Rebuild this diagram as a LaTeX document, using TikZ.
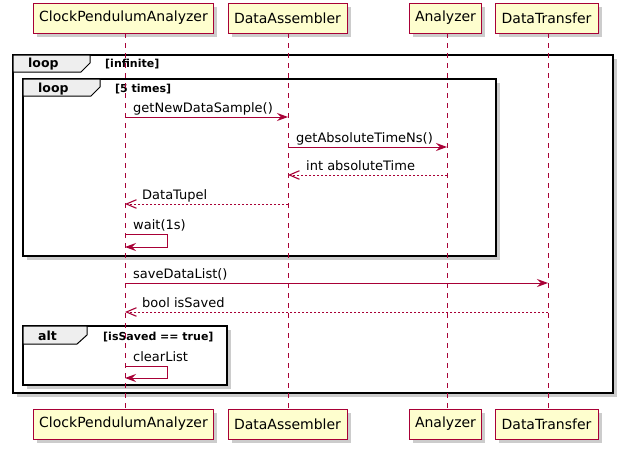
\documentclass[tikz,border=0pt]{standalone}
\usepackage{fontspec}
\setmainfont{DejaVu Sans}
\usetikzlibrary{arrows.meta,shadows}
\definecolor{pborder}{HTML}{A80036}
\definecolor{pfill}{HTML}{FEFECE}
\definecolor{tabfill}{HTML}{EEEEEE}
\begin{document}
\begin{tikzpicture}[x=1pt,y=-1pt,
  part/.style={draw=pborder, fill=pfill, line width=0.9pt, minimum height=30pt, inner sep=0pt,
    font=\fontsize{14}{16}\selectfont,
    drop shadow={shadow xshift=3.5pt,shadow yshift=-3.5pt,fill=black,opacity=0.2}},
  lifeline/.style={draw=pborder, line width=0.9pt, dash pattern=on 5pt off 5pt},
  msg/.style={draw=pborder, line width=1pt, -{Stealth[length=11pt,width=8pt,inset=4pt]}},
  ret/.style={draw=pborder, line width=1pt, dash pattern=on 2pt off 2pt,
    -{Straight Barb[length=10pt,width=8.5pt,line width=1.1pt]}},
  mlabel/.style={inner sep=0pt, anchor=base west, font=\fontsize{13}{15}\selectfont},
  frame/.style={draw=black, line width=1.8pt, fill=white,
    drop shadow={shadow xshift=3.5pt,shadow yshift=-3.5pt,fill=black,opacity=0.2}},
  tab/.style={draw=black, line width=1pt, fill=tabfill},
  tlabel/.style={inner sep=0pt, anchor=base west, font=\fontsize{12.5}{14}\bfseries\selectfont},
  cond/.style={inner sep=0pt, anchor=base west, font=\fontsize{11}{13}\bfseries\selectfont},
]
\useasboundingbox (0,0) rectangle (622,450);
\fill[white] (0,0) rectangle (622,450);

% frames
\draw[frame] (13,55) rectangle (613,393);
\draw[tab] (13,55) -- (90,55) -- (90,63) -- (81,72) -- (13,72) -- cycle;
\node[tlabel] (l1) at (28,67.7) {loop};
\node[cond] (c1) at (105,67.7) {[infinite]};

\draw[frame] (23,79) rectangle (496,256);
\draw[tab] (23,79) -- (100,79) -- (100,87) -- (91,96) -- (23,96) -- cycle;
\node[tlabel] (l2) at (38,92) {loop};
\node[cond] (c2) at (115,92) {[5 times]};

\draw[frame] (23,326) rectangle (227,385);
\draw[tab] (23,326) -- (87,326) -- (87,335) -- (77,344) -- (23,344) -- cycle;
\node[tlabel] (l3) at (38,340.7) {alt};
\node[cond] (c3) at (103,340.7) {[isSaved == true]};

% participants
\node[part, minimum width=180pt] (cpaT) at (123.5,18) {ClockPendulumAnalyzer};
\node[part, minimum width=119pt] (daT) at (287.5,18) {DataAssembler};
\node[part, minimum width=72pt] (anT) at (445.5,18) {Analyzer};
\node[part, minimum width=103pt] (dtT) at (546.5,18) {DataTransfer};
\node[part, minimum width=180pt] (cpaB) at (123.5,424) {ClockPendulumAnalyzer};
\node[part, minimum width=119pt] (daB) at (287.5,424) {DataAssembler};
\node[part, minimum width=72pt] (anB) at (445.5,424) {Analyzer};
\node[part, minimum width=103pt] (dtB) at (546.5,424) {DataTransfer};

% lifelines
\coordinate (x1) at (125,0);
\coordinate (x2) at (288,0);
\coordinate (x3) at (447,0);
\coordinate (x4) at (548,0);
\draw[lifeline] (x1 |- cpaT.south) -- (x1 |- cpaB.north);
\draw[lifeline] (x2 |- daT.south) -- (x2 |- daB.north);
\draw[lifeline] (x3 |- anT.south) -- (x3 |- anB.north);
\draw[lifeline] (x4 |- dtT.south) -- (x4 |- dtB.north);

% messages
\draw[msg] (x1 |- 0,117) -- (x2 |- 0,117);
\node[mlabel] (m1) at (133,112.5) {getNewDataSample()};
\draw[msg] (x2 |- 0,147) -- (x3 |- 0,147);
\node[mlabel] (m2) at (296,142.5) {getAbsoluteTimeNs()};
\draw[ret] (x3 |- 0,175) -- (x2 |- 0,175);
\node[mlabel] (m3) at (306,170.5) {int absoluteTime};
\draw[ret] (x2 |- 0,204) -- (x1 |- 0,204);
\node[mlabel] (m4) at (142,199.5) {DataTupel};
\draw[msg] (x1 |- 0,234) -- (167,234) -- (167,247) -- (x1 |- 0,247);
\node[mlabel] (m5) at (133,229) {wait(1s)};
\draw[msg] (x1 |- 0,283) -- (x4 |- 0,283);
\node[mlabel] (m6) at (133,278.5) {saveDataList()};
\draw[ret] (x4 |- 0,312) -- (x1 |- 0,312);
\node[mlabel] (m7) at (142,307.5) {bool isSaved};
\draw[msg] (x1 |- 0,366) -- (167,366) -- (167,378) -- (x1 |- 0,378);
\node[mlabel] (m8) at (133,361) {clearList};
\end{tikzpicture}
\end{document}
